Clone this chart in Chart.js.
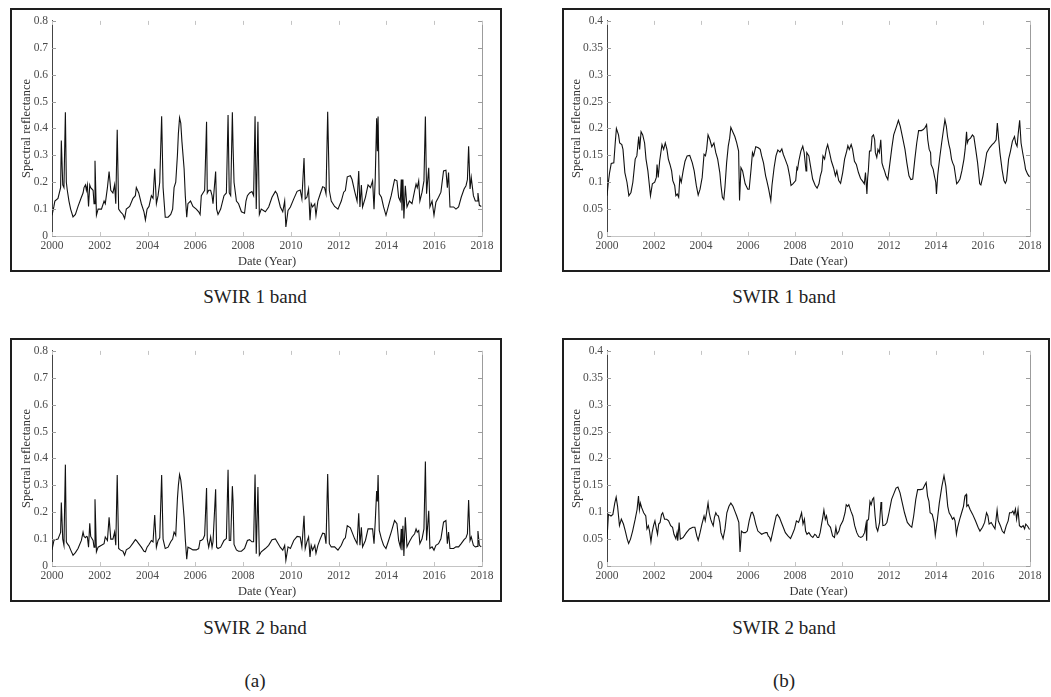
<!DOCTYPE html>
<html>
<head>
<meta charset="utf-8">
<script src="https://cdn.jsdelivr.net/npm/chart.js@4/dist/chart.umd.min.js"></script>
<style>
  body { margin: 0; background: #fff; width: 1051px; height: 697px; position: relative; overflow: hidden; font-family: 'Liberation Serif', 'Times New Roman', serif; }
  .frame { position: absolute; border: 2px solid #1e1e1e; box-sizing: border-box; }
  .frame canvas { display: block; }
  .cap { position: absolute; font-size: 19px; line-height: 1; color: #222; transform: translateX(-50%); white-space: nowrap; }
</style>
</head>
<body>
<div class="frame" style="left:10px;top:8px;width:492px;height:264px"><canvas id="a1" width="488" height="260"></canvas></div>
<div class="frame" style="left:562px;top:8px;width:488px;height:264px"><canvas id="b1" width="484" height="260"></canvas></div>
<div class="frame" style="left:10px;top:338px;width:492px;height:264px"><canvas id="a2" width="488" height="260"></canvas></div>
<div class="frame" style="left:562px;top:338px;width:488px;height:264px"><canvas id="b2" width="484" height="260"></canvas></div>

<div class="cap" style="left:255px;top:287px">SWIR 1 band</div>
<div class="cap" style="left:784px;top:287px">SWIR 1 band</div>
<div class="cap" style="left:255px;top:618px">SWIR 2 band</div>
<div class="cap" style="left:784px;top:618px">SWIR 2 band</div>
<div class="cap" style="left:255px;top:671px">(a)</div>
<div class="cap" style="left:784px;top:671px">(b)</div>

<script>
// tick values
const xTicks = [2000, 2002, 2004, 2006, 2008, 2010, 2012, 2014, 2016, 2018];
const yTicksA = [0, 0.1, 0.2, 0.3, 0.4, 0.5, 0.6, 0.7, 0.8];
const yTicksB = [0, 0.05, 0.1, 0.15, 0.2, 0.25, 0.3, 0.35, 0.4];

// (a) series share one time axis (decimal years)
const timeA = [
  2000.00, 2000.08, 2000.12, 2000.25, 2000.36, 2000.39, 2000.45, 2000.50, 2000.56, 2000.60, 2000.64, 2000.71, 2000.78, 2000.88, 2000.98,
  2001.09, 2001.23, 2001.30, 2001.34, 2001.40, 2001.44, 2001.48, 2001.53, 2001.58, 2001.62, 2001.72, 2001.76, 2001.80, 2001.86, 2001.93,
  2002.07, 2002.18, 2002.23, 2002.32, 2002.39, 2002.46, 2002.55, 2002.62, 2002.67, 2002.73, 2002.79, 2002.87, 2002.97,
  2003.04, 2003.11, 2003.25, 2003.39, 2003.49, 2003.53, 2003.63, 2003.74, 2003.85, 2003.91, 2003.98,
  2004.06, 2004.16, 2004.23, 2004.30, 2004.37, 2004.44, 2004.51, 2004.59, 2004.65, 2004.74, 2004.86, 2004.97,
  2005.05, 2005.11, 2005.18, 2005.25, 2005.29, 2005.34, 2005.39, 2005.44, 2005.53, 2005.58, 2005.64, 2005.69, 2005.80, 2005.90,
  2006.04, 2006.14, 2006.20, 2006.25, 2006.32, 2006.39, 2006.47, 2006.50, 2006.56, 2006.64, 2006.70, 2006.74, 2006.85, 2006.89, 2006.95,
  2007.06, 2007.20, 2007.30, 2007.37, 2007.42, 2007.48, 2007.55, 2007.58, 2007.62, 2007.72, 2007.81, 2007.93,
  2008.06, 2008.12, 2008.18, 2008.27, 2008.37, 2008.44, 2008.50, 2008.55, 2008.62, 2008.68, 2008.76, 2008.93,
  2009.07, 2009.21, 2009.35, 2009.42, 2009.56, 2009.66, 2009.74, 2009.79, 2009.88, 2009.98,
  2010.12, 2010.26, 2010.39, 2010.46, 2010.55, 2010.60, 2010.67, 2010.74, 2010.80, 2010.85, 2010.91,
  2011.00, 2011.05, 2011.13, 2011.23, 2011.33, 2011.41, 2011.47, 2011.54, 2011.61, 2011.69, 2011.83, 2011.97,
  2012.11, 2012.21, 2012.28, 2012.36, 2012.49, 2012.56, 2012.67, 2012.77, 2012.84, 2012.89, 2012.95,
  2013.00, 2013.12, 2013.23, 2013.33, 2013.42, 2013.48, 2013.53, 2013.59, 2013.62, 2013.65, 2013.70, 2013.79, 2013.88, 2013.98,
  2014.09, 2014.20, 2014.34, 2014.44, 2014.51, 2014.58, 2014.62, 2014.65, 2014.69, 2014.73, 2014.79, 2014.86, 2014.96,
  2015.07, 2015.18, 2015.24, 2015.29, 2015.35, 2015.40, 2015.49, 2015.57, 2015.63, 2015.68, 2015.77, 2015.82, 2015.91, 2015.99,
  2016.07, 2016.18, 2016.28, 2016.39, 2016.49, 2016.55, 2016.60, 2016.66, 2016.81, 2016.91,
  2017.02, 2017.13, 2017.25, 2017.33, 2017.39, 2017.44, 2017.50, 2017.55, 2017.64, 2017.72, 2017.80, 2017.83, 2017.89, 2017.97
];
const swir1A = [
  0.077, 0.11, 0.13, 0.14, 0.18, 0.355, 0.19, 0.18, 0.46, 0.20, 0.17, 0.13, 0.10, 0.071, 0.08,
  0.11, 0.144, 0.16, 0.18, 0.19, 0.17, 0.19, 0.11, 0.19, 0.18, 0.17, 0.12, 0.28, 0.077, 0.10,
  0.10, 0.13, 0.12, 0.18, 0.24, 0.17, 0.16, 0.19, 0.12, 0.395, 0.10, 0.09, 0.08,
  0.065, 0.10, 0.11, 0.14, 0.15, 0.18, 0.16, 0.12, 0.09, 0.06, 0.10,
  0.11, 0.15, 0.14, 0.25, 0.12, 0.15, 0.20, 0.445, 0.18, 0.07, 0.07, 0.08,
  0.10, 0.18, 0.20, 0.30, 0.38, 0.44, 0.42, 0.35, 0.25, 0.15, 0.07, 0.12, 0.13, 0.11,
  0.10, 0.09, 0.08, 0.15, 0.16, 0.17, 0.425, 0.16, 0.17, 0.17, 0.15, 0.12, 0.24, 0.10, 0.08,
  0.10, 0.15, 0.16, 0.45, 0.16, 0.15, 0.46, 0.33, 0.20, 0.13, 0.12, 0.09,
  0.085, 0.13, 0.15, 0.16, 0.165, 0.15, 0.445, 0.10, 0.425, 0.08, 0.10, 0.09,
  0.108, 0.144, 0.166, 0.157, 0.108, 0.09, 0.13, 0.034, 0.095, 0.108,
  0.138, 0.166, 0.171, 0.138, 0.29, 0.138, 0.144, 0.175, 0.059, 0.12, 0.108,
  0.12, 0.077, 0.13, 0.157, 0.183, 0.18, 0.157, 0.462, 0.169, 0.13, 0.11, 0.10,
  0.13, 0.163, 0.169, 0.22, 0.224, 0.21, 0.166, 0.13, 0.242, 0.108, 0.19,
  0.108, 0.144, 0.19, 0.18, 0.205, 0.10, 0.21, 0.438, 0.315, 0.444, 0.157, 0.144, 0.108, 0.077,
  0.114, 0.15, 0.21, 0.205, 0.144, 0.13, 0.21, 0.095, 0.21, 0.065, 0.187, 0.108, 0.13,
  0.12, 0.169, 0.193, 0.18, 0.205, 0.13, 0.163, 0.205, 0.444, 0.157, 0.254, 0.108, 0.13, 0.077,
  0.126, 0.144, 0.163, 0.242, 0.245, 0.18, 0.236, 0.108, 0.108, 0.10,
  0.108, 0.144, 0.175, 0.187, 0.21, 0.334, 0.175, 0.218, 0.15, 0.13, 0.13, 0.16, 0.114, 0.11
];
const swir2A = [
  0.06, 0.095, 0.098, 0.10, 0.125, 0.236, 0.10, 0.077, 0.377, 0.09, 0.083, 0.075, 0.06, 0.04, 0.05,
  0.065, 0.095, 0.126, 0.11, 0.105, 0.11, 0.108, 0.07, 0.159, 0.11, 0.095, 0.07, 0.248, 0.053, 0.07,
  0.077, 0.083, 0.108, 0.095, 0.181, 0.10, 0.10, 0.126, 0.077, 0.338, 0.065, 0.059, 0.055,
  0.04, 0.06, 0.068, 0.085, 0.098, 0.095, 0.083, 0.07, 0.055, 0.053, 0.07,
  0.08, 0.095, 0.09, 0.19, 0.07, 0.095, 0.105, 0.338, 0.10, 0.065, 0.07, 0.09,
  0.10, 0.126, 0.114, 0.25, 0.30, 0.34, 0.32, 0.28, 0.18, 0.10, 0.025, 0.07, 0.065, 0.06,
  0.06, 0.065, 0.095, 0.095, 0.10, 0.114, 0.29, 0.10, 0.07, 0.108, 0.07, 0.09, 0.285, 0.07, 0.065,
  0.07, 0.095, 0.102, 0.358, 0.095, 0.095, 0.297, 0.24, 0.08, 0.06, 0.055, 0.055,
  0.065, 0.08, 0.095, 0.098, 0.09, 0.09, 0.34, 0.046, 0.294, 0.04, 0.053, 0.065,
  0.077, 0.098, 0.101, 0.09, 0.069, 0.059, 0.077, 0.022, 0.071, 0.065,
  0.095, 0.11, 0.108, 0.071, 0.187, 0.065, 0.09, 0.108, 0.034, 0.077, 0.059,
  0.077, 0.047, 0.077, 0.101, 0.122, 0.12, 0.083, 0.342, 0.083, 0.071, 0.071, 0.059,
  0.077, 0.098, 0.105, 0.15, 0.142, 0.126, 0.101, 0.083, 0.196, 0.077, 0.144,
  0.071, 0.095, 0.138, 0.138, 0.138, 0.083, 0.163, 0.279, 0.24, 0.338, 0.132, 0.101, 0.077, 0.065,
  0.095, 0.126, 0.169, 0.157, 0.095, 0.071, 0.138, 0.059, 0.15, 0.037, 0.181, 0.071, 0.09,
  0.108, 0.12, 0.138, 0.126, 0.132, 0.083, 0.101, 0.138, 0.389, 0.095, 0.205, 0.065, 0.071, 0.059,
  0.077, 0.083, 0.101, 0.163, 0.169, 0.083, 0.126, 0.065, 0.065, 0.071,
  0.071, 0.083, 0.098, 0.105, 0.12, 0.245, 0.095, 0.108, 0.077, 0.071, 0.073, 0.13, 0.077, 0.071
];

// (b) SWIR 1
const timeB1 = [
  2000.00, 2000.05, 2000.11, 2000.18, 2000.29, 2000.35, 2000.40, 2000.49, 2000.54, 2000.63, 2000.68, 2000.76, 2000.85, 2000.93,
  2001.02, 2001.10, 2001.20, 2001.27, 2001.35, 2001.39, 2001.45, 2001.52, 2001.60, 2001.66, 2001.74, 2001.79, 2001.85, 2001.93,
  2002.03, 2002.10, 2002.13, 2002.18, 2002.24, 2002.34, 2002.41, 2002.48, 2002.55, 2002.61, 2002.68, 2002.75, 2002.80, 2002.88, 2002.93, 2002.99,
  2003.05, 2003.10, 2003.16, 2003.24, 2003.32, 2003.41, 2003.52, 2003.63, 2003.71, 2003.80, 2003.88, 2003.96,
  2004.05, 2004.13, 2004.19, 2004.24, 2004.30, 2004.38, 2004.46, 2004.55, 2004.63, 2004.71, 2004.80, 2004.85, 2004.91, 2004.97,
  2005.02, 2005.09, 2005.16, 2005.22, 2005.27, 2005.35, 2005.44, 2005.52, 2005.60, 2005.64, 2005.70, 2005.77, 2005.88, 2005.99,
  2006.05, 2006.13, 2006.19, 2006.24, 2006.33, 2006.44, 2006.52, 2006.58, 2006.66, 2006.75, 2006.80, 2006.88, 2006.97,
  2007.02, 2007.11, 2007.19, 2007.27, 2007.36, 2007.44, 2007.50, 2007.58, 2007.69, 2007.77, 2007.83, 2007.91,
  2008.03, 2008.08, 2008.11, 2008.16, 2008.25, 2008.33, 2008.39, 2008.47, 2008.50, 2008.59, 2008.66, 2008.75, 2008.86, 2008.94,
  2009.02, 2009.08, 2009.14, 2009.19, 2009.26, 2009.33, 2009.39, 2009.47, 2009.55, 2009.64, 2009.72, 2009.78, 2009.86, 2009.94,
  2010.03, 2010.11, 2010.20, 2010.25, 2010.31, 2010.39, 2010.45, 2010.53, 2010.61, 2010.70, 2010.79, 2010.89, 2010.95,
  2011.00, 2011.06, 2011.09, 2011.12, 2011.17, 2011.23, 2011.28, 2011.34, 2011.39, 2011.42, 2011.48, 2011.53, 2011.59, 2011.65, 2011.70, 2011.76, 2011.81, 2011.87, 2011.95,
  2012.04, 2012.12, 2012.20, 2012.32, 2012.40, 2012.48, 2012.57, 2012.68, 2012.76, 2012.85, 2012.93,
  2013.01, 2013.10, 2013.18, 2013.26, 2013.38, 2013.46, 2013.54, 2013.60, 2013.65, 2013.71, 2013.77, 2013.79, 2013.88, 2013.93, 2013.99,
  2014.02, 2014.07, 2014.16, 2014.24, 2014.32, 2014.38, 2014.44, 2014.49, 2014.55, 2014.60, 2014.66, 2014.71, 2014.77, 2014.83, 2014.88, 2014.94,
  2015.02, 2015.10, 2015.19, 2015.24, 2015.30, 2015.33, 2015.38, 2015.47, 2015.55, 2015.61, 2015.69, 2015.77, 2015.86, 2015.91,
  2016.00, 2016.08, 2016.16, 2016.28, 2016.39, 2016.47, 2016.56, 2016.61, 2016.67, 2016.72, 2016.81, 2016.89, 2016.95,
  2017.00, 2017.09, 2017.17, 2017.25, 2017.34, 2017.39, 2017.45, 2017.50, 2017.56, 2017.62, 2017.70, 2017.78, 2017.81, 2017.90, 2017.98
];
const swir1B = [
  0.075, 0.097, 0.118, 0.135, 0.136, 0.173, 0.200, 0.188, 0.173, 0.170, 0.161, 0.118, 0.100, 0.075,
  0.081, 0.100, 0.143, 0.149, 0.185, 0.161, 0.194, 0.188, 0.173, 0.143, 0.121, 0.100, 0.075, 0.097,
  0.100, 0.109, 0.133, 0.109, 0.139, 0.170, 0.161, 0.173, 0.161, 0.143, 0.133, 0.121, 0.103, 0.094, 0.075, 0.078,
  0.072, 0.109, 0.100, 0.121, 0.139, 0.149, 0.150, 0.136, 0.121, 0.094, 0.076, 0.087,
  0.109, 0.152, 0.149, 0.161, 0.188, 0.179, 0.166, 0.173, 0.155, 0.143, 0.118, 0.094, 0.072, 0.068,
  0.091, 0.136, 0.167, 0.182, 0.202, 0.194, 0.185, 0.173, 0.158, 0.066, 0.127, 0.121, 0.097, 0.087,
  0.087, 0.124, 0.155, 0.149, 0.166, 0.164, 0.161, 0.149, 0.136, 0.112, 0.103, 0.087, 0.066,
  0.094, 0.127, 0.149, 0.160, 0.156, 0.162, 0.152, 0.143, 0.130, 0.112, 0.094, 0.097,
  0.103, 0.127, 0.124, 0.139, 0.158, 0.167, 0.155, 0.121, 0.155, 0.149, 0.130, 0.106, 0.094, 0.089,
  0.097, 0.112, 0.121, 0.149, 0.143, 0.161, 0.170, 0.155, 0.139, 0.127, 0.112, 0.121, 0.103, 0.098,
  0.118, 0.143, 0.158, 0.168, 0.161, 0.170, 0.161, 0.139, 0.133, 0.118, 0.107, 0.101, 0.097,
  0.118, 0.078, 0.107, 0.121, 0.158, 0.158, 0.185, 0.188, 0.179, 0.155, 0.146, 0.161, 0.155, 0.179, 0.136, 0.127, 0.121, 0.112, 0.105,
  0.136, 0.164, 0.188, 0.204, 0.215, 0.204, 0.185, 0.161, 0.136, 0.112, 0.105,
  0.106, 0.143, 0.173, 0.196, 0.196, 0.198, 0.202, 0.207, 0.179, 0.161, 0.155, 0.133, 0.124, 0.112, 0.100,
  0.078, 0.112, 0.146, 0.173, 0.198, 0.216, 0.204, 0.185, 0.170, 0.161, 0.143, 0.136, 0.130, 0.112, 0.097, 0.100,
  0.106, 0.121, 0.143, 0.161, 0.194, 0.173, 0.179, 0.182, 0.188, 0.185, 0.161, 0.136, 0.097, 0.095,
  0.112, 0.133, 0.155, 0.164, 0.170, 0.173, 0.179, 0.210, 0.179, 0.155, 0.124, 0.103, 0.098,
  0.103, 0.143, 0.158, 0.176, 0.185, 0.173, 0.167, 0.191, 0.215, 0.173, 0.152, 0.133, 0.124, 0.115, 0.110
];

// (b) SWIR 2
const timeB2 = [
  2000.00, 2000.06, 2000.17, 2000.25, 2000.33, 2000.39, 2000.45, 2000.53, 2000.61, 2000.70, 2000.78, 2000.86, 2000.92,
  2001.00, 2001.09, 2001.20, 2001.28, 2001.34, 2001.38, 2001.42, 2001.48, 2001.56, 2001.65, 2001.70, 2001.76, 2001.81, 2001.87, 2001.92, 2001.98,
  2002.04, 2002.09, 2002.15, 2002.20, 2002.26, 2002.32, 2002.37, 2002.45, 2002.54, 2002.62, 2002.71, 2002.79, 2002.85, 2002.93, 2002.98,
  2003.01, 2003.07, 2003.12, 2003.24, 2003.38, 2003.51, 2003.65, 2003.74, 2003.82, 2003.88, 2003.96,
  2004.04, 2004.13, 2004.18, 2004.24, 2004.30, 2004.35, 2004.41, 2004.46, 2004.52, 2004.57, 2004.63, 2004.69, 2004.74, 2004.80, 2004.85, 2004.94,
  2005.02, 2005.10, 2005.19, 2005.27, 2005.36, 2005.44, 2005.52, 2005.61, 2005.66, 2005.72, 2005.80, 2005.89, 2005.97,
  2006.05, 2006.14, 2006.19, 2006.25, 2006.33, 2006.42, 2006.50, 2006.58, 2006.67, 2006.75, 2006.81, 2006.86, 2006.92, 2006.97,
  2007.03, 2007.11, 2007.20, 2007.25, 2007.34, 2007.42, 2007.50, 2007.59, 2007.70, 2007.81, 2007.89, 2007.98,
  2008.06, 2008.15, 2008.20, 2008.28, 2008.34, 2008.40, 2008.45, 2008.51, 2008.59, 2008.68, 2008.76, 2008.84, 2008.90, 2008.95,
  2009.01, 2009.07, 2009.12, 2009.18, 2009.23, 2009.29, 2009.34, 2009.40, 2009.51, 2009.60, 2009.68, 2009.74, 2009.79, 2009.87, 2009.93,
  2010.04, 2010.13, 2010.18, 2010.24, 2010.29, 2010.38, 2010.46, 2010.54, 2010.63, 2010.71, 2010.80, 2010.88, 2010.96,
  2011.02, 2011.05, 2011.07, 2011.13, 2011.19, 2011.24, 2011.30, 2011.35, 2011.41, 2011.46, 2011.52, 2011.60, 2011.66, 2011.69, 2011.74, 2011.83, 2011.91,
  2012.00, 2012.11, 2012.22, 2012.30, 2012.38, 2012.47, 2012.55, 2012.66, 2012.78, 2012.89, 2012.97,
  2013.05, 2013.14, 2013.22, 2013.33, 2013.44, 2013.53, 2013.58, 2013.64, 2013.70, 2013.75, 2013.84, 2013.92, 2013.97,
  2014.06, 2014.14, 2014.25, 2014.34, 2014.42, 2014.50, 2014.56, 2014.64, 2014.70, 2014.76, 2014.81, 2014.87, 2014.92,
  2015.01, 2015.09, 2015.17, 2015.23, 2015.29, 2015.31, 2015.37, 2015.45, 2015.56, 2015.68, 2015.79, 2015.87, 2015.98,
  2016.07, 2016.15, 2016.21, 2016.26, 2016.35, 2016.43, 2016.51, 2016.60, 2016.65, 2016.74, 2016.82, 2016.90, 2016.99,
  2017.07, 2017.13, 2017.21, 2017.27, 2017.32, 2017.38, 2017.43, 2017.49, 2017.55, 2017.63, 2017.71, 2017.77, 2017.82, 2017.90, 2017.98
];
const swir2B = [
  0.050, 0.096, 0.093, 0.096, 0.117, 0.128, 0.111, 0.075, 0.087, 0.078, 0.065, 0.050, 0.042,
  0.050, 0.065, 0.087, 0.105, 0.130, 0.105, 0.117, 0.108, 0.099, 0.093, 0.069, 0.075, 0.065, 0.045, 0.062, 0.075,
  0.084, 0.072, 0.059, 0.078, 0.081, 0.096, 0.099, 0.087, 0.087, 0.084, 0.075, 0.072, 0.059, 0.051, 0.062,
  0.047, 0.081, 0.050, 0.053, 0.062, 0.069, 0.072, 0.072, 0.056, 0.048, 0.062,
  0.078, 0.093, 0.084, 0.100, 0.117, 0.099, 0.087, 0.081, 0.075, 0.090, 0.099, 0.094, 0.093, 0.081, 0.062, 0.051,
  0.069, 0.099, 0.111, 0.117, 0.111, 0.102, 0.093, 0.081, 0.026, 0.065, 0.062, 0.062, 0.065,
  0.084, 0.099, 0.100, 0.093, 0.078, 0.065, 0.062, 0.059, 0.061, 0.062, 0.062, 0.056, 0.053, 0.047,
  0.059, 0.075, 0.093, 0.096, 0.090, 0.081, 0.072, 0.062, 0.056, 0.051, 0.059, 0.069,
  0.084, 0.081, 0.087, 0.099, 0.078, 0.087, 0.065, 0.059, 0.062, 0.056, 0.053, 0.059, 0.057, 0.053,
  0.053, 0.062, 0.075, 0.090, 0.104, 0.087, 0.093, 0.078, 0.072, 0.056, 0.053, 0.072, 0.059, 0.065, 0.075,
  0.084, 0.099, 0.114, 0.111, 0.114, 0.102, 0.093, 0.075, 0.062, 0.055, 0.053, 0.055, 0.062,
  0.078, 0.047, 0.084, 0.087, 0.120, 0.114, 0.124, 0.127, 0.093, 0.072, 0.065, 0.081, 0.119, 0.105, 0.075, 0.076, 0.081,
  0.099, 0.124, 0.136, 0.145, 0.147, 0.136, 0.120, 0.099, 0.081, 0.075, 0.072,
  0.093, 0.124, 0.142, 0.142, 0.143, 0.151, 0.155, 0.130, 0.120, 0.099, 0.096, 0.081, 0.057,
  0.087, 0.117, 0.148, 0.168, 0.148, 0.111, 0.099, 0.093, 0.087, 0.090, 0.084, 0.059, 0.072,
  0.087, 0.099, 0.111, 0.130, 0.133, 0.111, 0.114, 0.105, 0.096, 0.084, 0.072, 0.065, 0.072,
  0.081, 0.099, 0.093, 0.078, 0.081, 0.075, 0.069, 0.104, 0.084, 0.075, 0.065, 0.061, 0.075,
  0.084, 0.099, 0.099, 0.102, 0.096, 0.106, 0.087, 0.105, 0.075, 0.072, 0.075, 0.069, 0.078, 0.074, 0.068
];

const serif = "'Liberation Serif', 'Times New Roman', serif";

// right axis line + small inward ticks on all four sides (matlab look)
const boxTicks = {
  id: 'boxTicks',
  afterDraw(chart) {
    const { ctx, chartArea: a, scales: { x, y } } = chart;
    ctx.save();
    ctx.lineWidth = 1;
    ctx.strokeStyle = '#9c9c9c';
    ctx.beginPath();
    ctx.moveTo(a.right + 0.5, a.top);
    ctx.lineTo(a.right + 0.5, a.bottom);
    y.ticks.forEach(t => {
      const py = Math.round(y.getPixelForValue(t.value)) + 0.5;
      ctx.moveTo(a.right - 4, py); ctx.lineTo(a.right, py);
      ctx.moveTo(a.left, py); ctx.lineTo(a.left + 4, py);
    });
    ctx.stroke();
    ctx.strokeStyle = '#c4c4c4';
    ctx.beginPath();
    x.ticks.forEach(t => {
      const px = Math.round(x.getPixelForValue(t.value)) + 0.5;
      ctx.moveTo(px, a.top); ctx.lineTo(px, a.top + 4);
      ctx.moveTo(px, a.bottom); ctx.lineTo(px, a.bottom - 4);
    });
    ctx.stroke();
    ctx.restore();
  }
};

function makeChart(id, xs, ys, yTicks, axisWidth, titlePad) {
  const data = xs.map((x, i) => ({ x: x, y: ys[i] }));
  return new Chart(document.getElementById(id), {
    type: 'line',
    data: {
      datasets: [{
        data: data,
        borderColor: '#111',
        borderWidth: 1.1,
        pointRadius: 0,
        tension: 0,
        fill: false
      }]
    },
    options: {
      responsive: false,
      animation: false,
      devicePixelRatio: 1,
      layout: { padding: { left: 0, top: 8, right: 18, bottom: 0 } },
      plugins: { legend: { display: false }, tooltip: { enabled: false } },
      scales: {
        x: {
          type: 'linear',
          min: 2000,
          max: 2018,
          afterBuildTicks: s => { s.ticks = xTicks.map(v => ({ value: v })); },
          afterFit: s => { s.height = 34; },
          grid: { display: true, drawOnChartArea: false, drawTicks: false },
          border: { color: '#c4c4c4', width: 1 },
          ticks: {
            autoSkip: false, maxRotation: 0, padding: 3, color: '#4a4a4a',
            font: { family: serif, size: 11.5 },
            callback: v => String(v)
          },
          title: {
            display: true, text: 'Date (Year)', color: '#333',
            font: { family: serif, size: 12.5 },
            padding: { top: 0, bottom: 1 }
          }
        },
        y: {
          min: 0,
          max: yTicks[yTicks.length - 1],
          afterBuildTicks: s => { s.ticks = yTicks.map(v => ({ value: v })); },
          afterFit: s => { s.width = axisWidth; },
          grid: { display: true, drawOnChartArea: false, drawTicks: false },
          border: { color: '#444', width: 1 },
          ticks: {
            padding: 4, color: '#4a4a4a',
            font: { family: serif, size: 11.5 },
            callback: v => String(+v.toFixed(2))
          },
          title: {
            display: true, text: 'Spectral reflectance', color: '#333',
            font: { family: serif, size: 12.5 },
            padding: { top: titlePad, bottom: 0 }
          }
        }
      }
    },
    plugins: [boxTicks]
  });
}

makeChart('a1', timeA, swir1A, yTicksA, 40, 7.5);
makeChart('a2', timeA, swir2A, yTicksA, 40, 7.5);
makeChart('b1', timeB1, swir1B, yTicksB, 43, 5);
makeChart('b2', timeB2, swir2B, yTicksB, 43, 5);
</script>
</body>
</html>
